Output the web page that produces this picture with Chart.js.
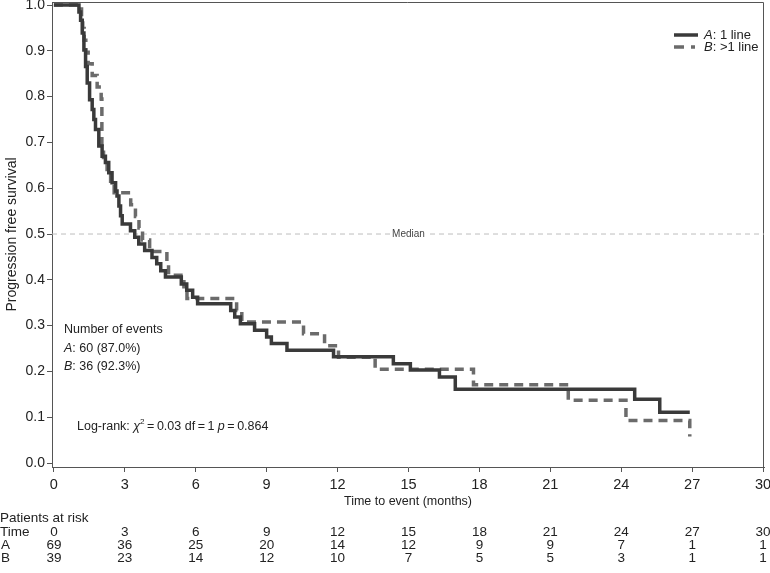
<!DOCTYPE html>
<html>
<head>
<meta charset="utf-8">
<script src="https://cdn.jsdelivr.net/npm/chart.js@4.4.1/dist/chart.umd.min.js"></script>
<style>
  html, body { margin: 0; padding: 0; background: #fff; }
  #wrap { width: 770px; height: 573px; }
</style>
</head>
<body>
<div id="wrap"><canvas id="km"></canvas></div>
<script>
// Kaplan-Meier steps (time in months, survival after the drop)
const timeA = [0, 1.06, 1.13, 1.20, 1.27, 1.34, 1.41, 1.51, 1.62, 1.69, 1.76, 1.90, 2.04, 2.18, 2.32, 2.46,
  2.61, 2.67, 2.75, 2.82, 2.89, 3.24, 3.42, 3.59, 3.84, 4.15, 4.35, 4.52, 4.72, 5.39, 5.62, 5.87, 6.08,
  7.48, 7.65, 7.89, 8.49, 9.00, 9.20, 9.86, 11.83, 14.36, 15.08, 16.31, 16.98, 24.57, 25.63, 26.9];
const survA = [1.0, 0.985, 0.967, 0.939, 0.902, 0.866, 0.830, 0.793, 0.772, 0.750, 0.728, 0.692, 0.670, 0.656, 0.634, 0.612,
  0.594, 0.583, 0.561, 0.540, 0.522, 0.507, 0.493, 0.478, 0.464, 0.449, 0.435, 0.420, 0.406, 0.391, 0.377, 0.362, 0.348,
  0.333, 0.319, 0.304, 0.290, 0.275, 0.261, 0.246, 0.232, 0.217, 0.203, 0.188, 0.161, 0.139, 0.111, 0.111];

const timeB = [0, 1.17, 1.22, 1.28, 1.35, 1.45, 1.62, 1.83, 2.00, 2.03, 2.10, 2.25, 2.40, 2.55, 3.25, 3.45,
  3.60, 3.75, 4.05, 4.78, 4.85, 5.50, 5.63, 7.73, 7.95, 10.56, 11.45, 12.04, 13.59, 17.75, 21.76, 24.2, 26.9];
const survB = [1.0, 0.974, 0.949, 0.923, 0.897, 0.872, 0.846, 0.821, 0.795, 0.692, 0.667, 0.641, 0.615, 0.590, 0.564, 0.538,
  0.513, 0.487, 0.462, 0.436, 0.410, 0.385, 0.359, 0.333, 0.308, 0.282, 0.256, 0.231, 0.205, 0.171, 0.137, 0.093, 0.058];

const medianLevel = 0.5;
const xTicks = [0, 3, 6, 9, 12, 15, 18, 21, 24, 27, 30];
const yTicks = [0, 0.1, 0.2, 0.3, 0.4, 0.5, 0.6, 0.7, 0.8, 0.9, 1.0];

const riskTimes = [0, 3, 6, 9, 12, 15, 18, 21, 24, 27, 30];
const riskA = [69, 36, 25, 20, 14, 12, 9, 9, 7, 1, 1];
const riskB = [39, 23, 14, 12, 10, 7, 5, 5, 3, 1, 1];

const REG = "'Liberation Sans', Arial, sans-serif";
const NARROW = "'Liberation Sans Narrow', 'Liberation Sans', Arial, sans-serif";
const TXT = '#222';

function rich(ctx, parts, x, y, size) {
  let cx = x;
  parts.forEach(p => {
    const s = p.sup ? size * 0.65 : size;
    ctx.font = (p.italic ? 'italic ' : '') + s + 'px ' + REG;
    ctx.fillText(p.t, cx, p.sup ? y - size * 0.38 : y);
    cx += ctx.measureText(p.t).width;
  });
}

const extras = {
  id: 'extras',
  beforeDatasetsDraw(chart) {
    const { ctx, chartArea: a } = chart;
    ctx.save();
    ctx.strokeStyle = '#555';
    ctx.lineWidth = 1;
    ctx.beginPath();
    ctx.moveTo(a.left, a.top + 0.5);
    ctx.lineTo(a.right - 0.5, a.top + 0.5);
    ctx.lineTo(a.right - 0.5, a.bottom);
    ctx.stroke();
    ctx.restore();
  },
  afterDatasetsDraw(chart) {
    const { ctx, scales: { x, y } } = chart;
    ctx.save();
    // median label
    const mx = x.getPixelForValue(15), my = y.getPixelForValue(medianLevel);
    ctx.font = '10px ' + REG;
    ctx.textAlign = 'center';
    ctx.textBaseline = 'middle';
    const w = ctx.measureText('Median').width;
    ctx.fillStyle = '#fff';
    ctx.fillRect(mx - w / 2 - 2, my - 6, w + 4, 12);
    ctx.fillStyle = '#444';
    ctx.fillText('Median', mx, my);

    // legend
    ctx.lineWidth = 3.5;
    ctx.strokeStyle = '#3a3a3a';
    ctx.beginPath(); ctx.moveTo(674, 35); ctx.lineTo(698, 35); ctx.stroke();
    ctx.strokeStyle = '#6b6b6b';
    ctx.setLineDash([10, 7, 4, 100]);
    ctx.beginPath(); ctx.moveTo(674, 47); ctx.lineTo(698, 47); ctx.stroke();
    ctx.setLineDash([]);
    ctx.textAlign = 'left';
    ctx.fillStyle = TXT;
    rich(ctx, [{ t: 'A', italic: true }, { t: ': 1 line' }], 704, 35, 13);
    rich(ctx, [{ t: 'B', italic: true }, { t: ': >1 line' }], 704, 47, 13);

    // events and log-rank
    rich(ctx, [{ t: 'Number of events' }], 64, 330, 12.5);
    rich(ctx, [{ t: 'A', italic: true }, { t: ': 60 (87.0%)' }], 64, 349, 12.5);
    rich(ctx, [{ t: 'B', italic: true }, { t: ': 36 (92.3%)' }], 64, 367, 12.5);
    rich(ctx, [{ t: 'Log-rank: ' }, { t: '\u03c7', italic: true }, { t: '2', sup: true },
      { t: '\u2009=\u20090.03 df\u2009=\u20091 ' }, { t: 'p', italic: true }, { t: '\u2009=\u20090.864' }], 77, 427, 12.5);

    // patients at risk table
    ctx.font = '13.5px ' + NARROW;
    ctx.fillText('Patients at risk', 0, 518);
    ctx.fillText('Time', 0, 532);
    ctx.fillText('A', 1, 545);
    ctx.fillText('B', 1, 558);
    ctx.textAlign = 'center';
    riskTimes.forEach((t, i) => {
      const px = x.getPixelForValue(t);
      ctx.fillText(String(t), px, 532);
      ctx.fillText(String(riskA[i]), px, 545);
      ctx.fillText(String(riskB[i]), px, 558);
    });
    ctx.restore();
  }
};

const pts = (ts, ss) => ts.map((t, i) => ({ x: t, y: ss[i] }));

new Chart(document.getElementById('km'), {
  type: 'line',
  data: {
    datasets: [
      { label: 'A: 1 line', data: pts(timeA, survA), stepped: 'before', borderColor: '#3a3a3a',
        borderWidth: 3.5, pointRadius: 0, fill: false },
      { label: 'B: >1 line', data: pts(timeB, survB), stepped: 'before', borderColor: '#6b6b6b',
        borderWidth: 3.5, borderDash: [9, 6], pointRadius: 0, fill: false },
      { label: 'Median', data: [{ x: -0.08, y: medianLevel }, { x: 30.04, y: medianLevel }],
        borderColor: '#bdbdbd', borderWidth: 1, borderDash: [5, 4], pointRadius: 0, fill: false }
    ]
  },
  options: {
    responsive: true,
    maintainAspectRatio: false,
    animation: false,
    layout: { padding: { top: 2, right: 6, left: 0, bottom: 60 } },
    plugins: { legend: { display: false }, tooltip: { enabled: false } },
    scales: {
      x: {
        type: 'linear', min: -0.08, max: 30.04,
        afterBuildTicks: s => { s.ticks = xTicks.map(v => ({ value: v })); },
        afterFit: s => { s.height = 46; s.paddingLeft = 0; s.paddingRight = 0; },
        ticks: { font: { family: NARROW, size: 14.5 }, color: TXT, padding: 4, maxRotation: 0, autoSkip: false },
        grid: { drawOnChartArea: false, tickLength: 5, color: '#555' },
        border: { color: '#555', width: 1 },
        title: { display: true, text: 'Time to event (months)', color: TXT,
          font: { family: NARROW, size: 12.5 }, padding: { top: 0, bottom: 4 } }
      },
      y: {
        min: -0.0087, max: 1.0066,
        afterBuildTicks: s => { s.ticks = yTicks.map(v => ({ value: v })); },
        afterFit: s => { s.width = 52; s.paddingTop = 0; s.paddingBottom = 0; },
        ticks: { font: { family: REG, size: 14 }, color: TXT, padding: 2, callback: v => v.toFixed(1) },
        grid: { drawOnChartArea: false, tickLength: 5, color: '#555' },
        border: { color: '#555', width: 1 },
        title: { display: true, text: 'Progression free survival', color: TXT,
          font: { family: REG, size: 14 }, padding: { top: 4, bottom: 0 } }
      }
    }
  },
  plugins: [extras]
});
</script>
</body>
</html>
